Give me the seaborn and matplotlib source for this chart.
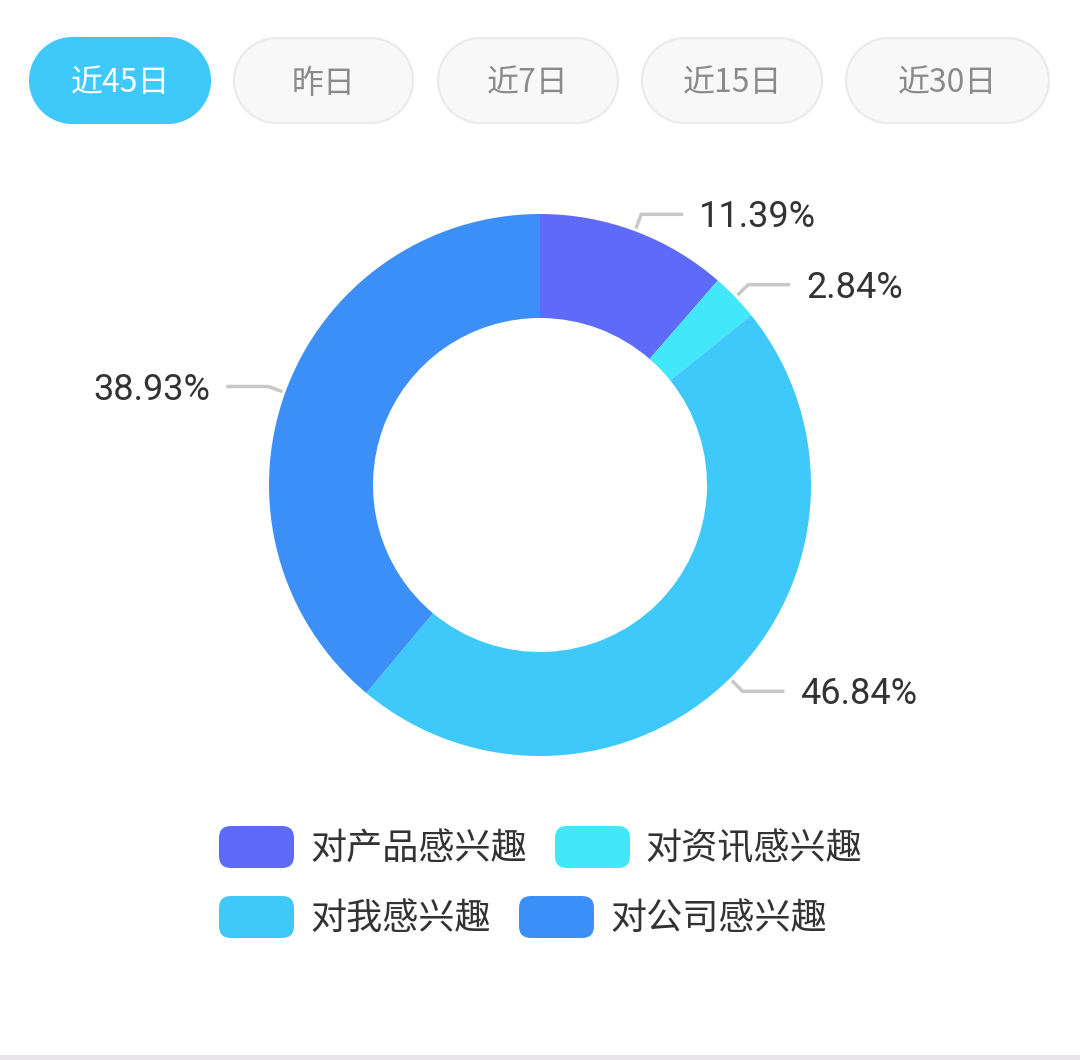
import numpy as np
import matplotlib
matplotlib.use("Agg")
import matplotlib.pyplot as plt
from matplotlib.patches import FancyBboxPatch, Rectangle, Polygon
import seaborn as sns

# Data
periods = ["近45日", "昨日", "近7日", "近15日", "近30日"]
active_period = "近45日"
categories = ["对产品感兴趣", "对资讯感兴趣", "对我感兴趣", "对公司感兴趣"]
shares = [11.39, 2.84, 46.84, 38.93]
palette = ["#5e6bf9", "#42e8fa", "#3fc8fa", "#3d8ff8"]

sns.set_theme(style="white")
plt.rcParams["font.family"] = ["Noto Sans CJK SC", "DejaVu Sans"]

W, H = 1080, 1060
fig = plt.figure(figsize=(W / 100, H / 100), dpi=100)
fig.patch.set_facecolor("white")
ax = fig.add_axes([0, 0, 1, 1])


def py(y):
    # pixel row (from top) to data y (from bottom)
    return H - y


def pill(x0, x1, yb, yt):
    # outline of a capsule shape with round ends
    r = (yt - yb) / 2
    yc = (yt + yb) / 2
    t = np.linspace(-np.pi / 2, np.pi / 2, 40)
    right = np.c_[x1 - r + r * np.cos(t), yc + r * np.sin(t)]
    left = np.c_[x0 + r - r * np.cos(t), yc - r * np.sin(t)]
    return np.vstack([right, left])


# Period buttons
btn_x = [(30, 210), (234, 413), (438, 618), (642, 822), (846, 1049)]
btn_top, btn_bot = 38, 123
for (x0, x1), label in zip(btn_x, periods):
    active = label == active_period
    shape = Polygon(pill(x0, x1, py(btn_bot), py(btn_top)), closed=True,
                    facecolor="#3fc8fa" if active else "#f8f8f8",
                    edgecolor="#3fc8fa" if active else "#eaeaea",
                    linewidth=1.5)
    ax.add_patch(shape)
    ax.text((x0 + x1) / 2, py((btn_top + btn_bot) / 2) - 3, label,
            ha="center", va="center", fontsize=23,
            color="white" if active else "#8a8a8a")

# Donut
cx, cy, r_out, ring = 540, py(485), 271, 104
wedges, _ = ax.pie(shares, colors=palette, startangle=90, counterclock=False,
                   radius=r_out, center=(cx, cy),
                   wedgeprops=dict(width=ring, linewidth=0))

# Leader lines and percentage labels
for w, val in zip(wedges, shares):
    ang = np.deg2rad((w.theta1 + w.theta2) / 2)
    c, s = np.cos(ang), np.sin(ang)
    side = 1 if c >= 0 else -1
    x0, y0 = cx + 274 * c, cy + 274 * s
    x1, y1 = cx + 289 * c, cy + 289 * s
    x2 = x1 + side * 42
    ax.plot([x0, x1, x2], [y0, y1, y1], color="#c8c8c8", lw=2.5,
            solid_capstyle="butt")
    ax.text(x2 + side * 16, y1 - 3, f"{val:.2f}%",
            ha="left" if side > 0 else "right",
            va="center", fontsize=26, color="#333333",
            family=["Roboto", "DejaVu Sans"])

# Legend
legend_pos = [(219, 847, 310), (555, 847, 645), (219, 917, 310), (519, 917, 610)]
for (px, pyc, tx), label, col in zip(legend_pos, categories, palette):
    sw = FancyBboxPatch((px, py(pyc) - 21), 75, 42,
                        boxstyle="round,pad=0,rounding_size=12",
                        facecolor=col, edgecolor="none")
    ax.add_patch(sw)
    ax.text(tx, py(pyc) - 2, label, ha="left", va="center", fontsize=26,
            color="#333333")

# bottom divider
ax.add_patch(Rectangle((0, 0), W, 5, facecolor="#e8e6e9", edgecolor="none"))

ax.set_xlim(0, W)
ax.set_ylim(0, H)
ax.set_aspect("equal")
ax.axis("off")

fig.savefig("out.png", dpi=100, facecolor="white")
